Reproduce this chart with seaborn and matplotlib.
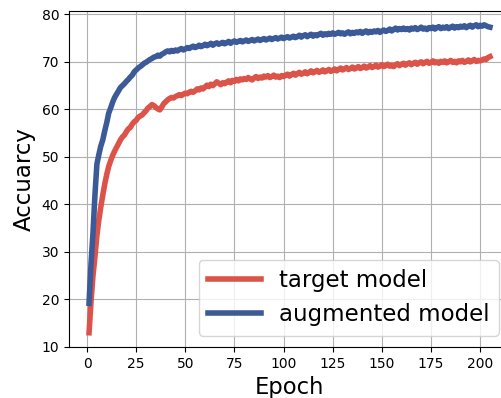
import matplotlib
matplotlib.use("Agg")
import matplotlib.pyplot as plt
import seaborn as sns
import pandas as pd
import numpy as np

epochs = list(range(1, 206))

target_model = [
    13.0, 19.5, 25.0, 29.0, 33.5, 36.8, 39.5, 42.0, 44.3, 46.3,
    48.0, 49.2, 50.3, 51.2, 52.0, 52.8, 53.6, 54.2, 54.6, 55.3,
    55.9, 56.2, 56.9, 57.4, 57.7, 58.3, 58.6, 58.8, 59.3, 59.7,
    60.3, 60.6, 61.0, 60.8, 60.4, 60.1, 59.9, 60.5, 61.2, 61.6,
    62.0, 62.3, 62.5, 62.4, 62.7, 62.9, 63.1, 62.9, 63.2, 63.4,
    63.3, 63.6, 63.8, 63.6, 63.9, 64.3, 64.1, 64.5, 64.3, 64.7,
    65.1, 64.8, 65.3, 65.0, 65.4, 65.8, 65.5, 65.2, 65.6, 65.4,
    65.7, 66.0, 65.6, 66.1, 65.9, 66.3, 66.0, 66.4, 66.2, 66.5,
    66.3, 66.7, 66.4, 66.2, 66.6, 66.9, 66.5, 66.8, 66.6, 67.0,
    66.8, 67.1, 66.7, 66.9, 67.2, 66.8, 67.0, 66.7, 67.1, 66.9,
    67.2, 67.4, 67.0, 67.3, 67.6, 67.2, 67.5, 67.8, 67.4, 67.6,
    67.9, 67.5, 67.8, 68.1, 67.7, 67.9, 68.2, 67.8, 68.0, 68.3,
    67.9, 68.1, 68.4, 68.0, 68.2, 68.5, 68.1, 68.4, 68.7, 68.3,
    68.5, 68.8, 68.4, 68.6, 68.9, 68.5, 68.7, 69.0, 68.6, 68.8,
    69.1, 68.7, 68.9, 69.2, 68.8, 69.0, 69.3, 68.9, 69.1, 69.4,
    69.0, 69.2, 69.5, 69.1, 69.3, 69.0, 69.4, 69.6, 69.2, 69.5,
    69.7, 69.3, 69.6, 69.8, 69.4, 69.7, 69.9, 69.5, 69.8, 70.0,
    69.6, 69.9, 70.1, 69.7, 69.9, 70.2, 69.8, 70.0, 69.7, 70.1,
    69.9, 70.2, 69.8, 70.0, 70.3, 69.9, 70.1, 69.8, 70.2, 70.0,
    70.3, 69.9, 70.1, 70.4, 70.0, 70.2, 70.5, 70.1, 70.3, 70.2,
    70.4, 70.6, 70.5, 70.9, 71.1,
]

augmented_model = [
    19.2, 27.5, 34.0, 42.0, 48.5, 50.5, 52.3, 53.6, 55.5, 57.2,
    59.2, 60.3, 61.5, 62.5, 63.2, 63.9, 64.6, 65.0, 65.4, 65.9,
    66.3, 66.8, 67.2, 67.9, 68.3, 68.7, 69.0, 69.3, 69.7, 69.9,
    70.2, 70.5, 70.7, 71.0, 71.1, 71.4, 71.2, 71.6, 71.8, 72.1,
    72.3, 72.1, 72.4, 72.2, 72.5, 72.3, 72.6, 72.8, 72.5, 72.7,
    73.0, 72.8, 73.1, 73.3, 73.0, 73.2, 73.5, 73.2, 73.4, 73.7,
    73.4, 73.6, 73.9, 73.5, 73.8, 74.0, 73.7, 73.9, 74.1, 73.8,
    74.0, 74.3, 73.9, 74.2, 74.4, 74.1, 74.3, 74.5, 74.2, 74.4,
    74.6, 74.3, 74.5, 74.7, 74.4, 74.6, 74.8, 74.5, 74.7, 74.9,
    74.6, 74.8, 75.0, 74.7, 74.9, 75.1, 74.8, 75.0, 75.2, 74.9,
    75.1, 75.3, 75.0, 75.2, 75.4, 75.1, 75.3, 75.6, 75.2, 75.5,
    75.7, 75.3, 75.6, 75.8, 75.4, 75.7, 75.5, 75.8, 76.0, 75.6,
    75.9, 75.7, 76.0, 75.8, 76.1, 75.8, 76.0, 76.2, 75.9, 76.1,
    75.8, 76.1, 76.3, 75.9, 76.2, 76.0, 76.3, 76.1, 76.4, 76.0,
    76.3, 76.5, 76.1, 76.4, 76.2, 76.5, 76.3, 76.6, 76.2, 76.5,
    76.7, 76.4, 76.6, 76.9, 76.5, 76.8, 77.1, 76.7, 77.0, 76.8,
    77.1, 76.8, 77.0, 76.7, 77.1, 76.9, 77.2, 76.8, 77.0, 77.3,
    76.9, 77.1, 76.8, 77.2, 77.0, 77.3, 76.9, 77.2, 77.4, 77.0,
    77.3, 77.1, 77.4, 77.0, 77.3, 77.5, 77.1, 77.4, 77.2, 77.5,
    77.3, 77.6, 77.2, 77.5, 77.7, 77.3, 77.6, 77.8, 77.4, 77.7,
    77.5, 77.8, 77.6, 77.4, 77.3,
]

series_names = ["target model", "augmented model"]
colors = ["#dc5349", "#3b5a97"]

df = pd.concat([
    pd.DataFrame({"Epoch": epochs, "Accuarcy": target_model, "model": series_names[0]}),
    pd.DataFrame({"Epoch": epochs, "Accuarcy": augmented_model, "model": series_names[1]}),
])

fig = plt.figure(figsize=(5.01, 3.98), dpi=100)
ax = fig.add_axes([69 / 501, 51 / 398, 441 / 501, 336 / 398])
ax.grid(True, color="#b0b0b0", linewidth=0.8)
ax.set_axisbelow(True)

sns.lineplot(data=df, x="Epoch", y="Accuarcy", hue="model",
             palette=dict(zip(series_names, colors)), linewidth=4.0, ax=ax)

ax.set_ylim(10, 80.7)
ax.set_xticks([0, 25, 50, 75, 100, 125, 150, 175, 200])
ax.set_yticks([10, 20, 30, 40, 50, 60, 70, 80])
ax.tick_params(labelsize=10)
ax.set_xlabel("Epoch", fontsize=16.3)
ax.set_ylabel("Accuarcy", fontsize=16.5)
leg = ax.legend(loc="lower right", fontsize=16.5, handlelength=2.3)
for line in leg.get_lines():
    line.set_linewidth(4.0)

fig.savefig("out.png", dpi=100)
